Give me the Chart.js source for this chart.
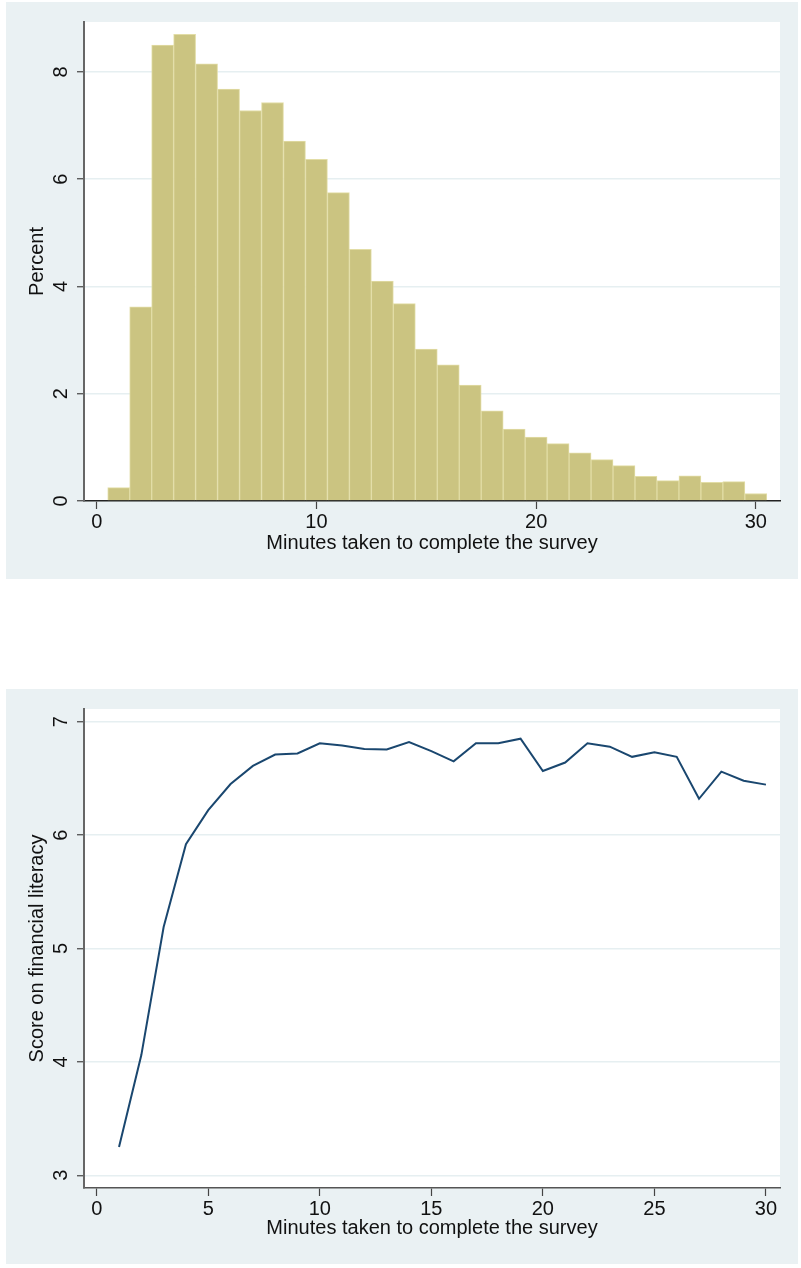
<!DOCTYPE html>
<html>
<head>
<meta charset="utf-8">
<script src="https://cdn.jsdelivr.net/npm/chart.js@4.4.1/dist/chart.umd.min.js"></script>
<style>
html, body { margin: 0; padding: 0; background: #fff; }
body { width: 801px; height: 1268px; position: relative; overflow: hidden; }
.panel { position: absolute; left: 6px; width: 792px; background: #EAF1F3; }
#p1 { top: 2px; height: 577px; }
#p2 { top: 689px; height: 575px; }
canvas { display: block; }
</style>
</head>
<body>
<div class="panel" id="p1"><canvas id="hist" width="792" height="577"></canvas></div>
<div class="panel" id="p2"><canvas id="line" width="792" height="575"></canvas></div>
<script>
// minutes taken, one bin / point per minute
const minutes = [1, 2, 3, 4, 5, 6, 7, 8, 9, 10, 11, 12, 13, 14, 15,
    16, 17, 18, 19, 20, 21, 22, 23, 24, 25, 26, 27, 28, 29, 30];

// histogram: percent of respondents per minute
const percentShare = [0.25, 3.62, 8.50, 8.70, 8.15, 7.68, 7.28, 7.43, 6.71, 6.37,
    5.75, 4.69, 4.10, 3.68, 2.83, 2.54, 2.16, 1.68, 1.34, 1.19,
    1.07, 0.90, 0.77, 0.66, 0.46, 0.38, 0.47, 0.35, 0.36, 0.14];

// mean score on financial literacy per minute
const literacyScore = [3.25, 4.06, 5.19, 5.92, 6.22, 6.45, 6.61, 6.71, 6.72, 6.81,
    6.79, 6.76, 6.755, 6.82, 6.74, 6.65, 6.81, 6.81, 6.85, 6.565,
    6.64, 6.81, 6.78, 6.69, 6.73, 6.69, 6.32, 6.56, 6.48, 6.445];

const histXTicks = [0, 10, 20, 30];
const histYTicks = [0, 2, 4, 6, 8];
const lineXTicks = [0, 5, 10, 15, 20, 25, 30];
const lineYTicks = [3, 4, 5, 6, 7];

const FONT = '"Liberation Sans", Arial, Helvetica, sans-serif';
const INK = '#111';

const plotBackground = {
    id: 'plotBackground',
    beforeDraw(chart) {
        const { ctx, chartArea: a } = chart;
        ctx.save();
        ctx.fillStyle = '#fff';
        ctx.fillRect(a.left, a.top, a.right - a.left, a.bottom - a.top);
        ctx.restore();
    }
};

// stata draws y tick labels turned on their side
const rotatedYLabels = {
    id: 'rotatedYLabels',
    afterDraw(chart) {
        const scale = chart.scales.y;
        const ctx = chart.ctx;
        ctx.save();
        ctx.font = '20px ' + FONT;
        ctx.fillStyle = INK;
        ctx.textAlign = 'center';
        ctx.textBaseline = 'alphabetic';
        scale.ticks.forEach(t => {
            const y = scale.getPixelForValue(t.value);
            ctx.save();
            ctx.translate(60.5, y);
            ctx.rotate(-Math.PI / 2);
            ctx.fillText(String(t.value), 0, 0);
            ctx.restore();
        });
        ctx.restore();
    }
};

function makeScales({ xMin, xMax, xTicks, yMin, yMax, yTicks, yTitle, xHeight, axisColor }) {
    return {
        x: {
            type: 'linear',
            min: xMin,
            max: xMax,
            offset: false,
            z: 1,
            afterBuildTicks: s => { s.ticks = xTicks.map(v => ({ value: v })); },
            afterFit: s => { s.height = xHeight; },
            ticks: { font: { family: FONT, size: 20 }, color: INK, padding: 1, maxRotation: 0, autoSkip: false },
            grid: { drawOnChartArea: false, drawTicks: true, tickLength: 8, tickColor: '#444', tickWidth: 1.2, offset: false },
            border: { display: true, color: axisColor, width: 1.5 },
            title: {
                display: true,
                text: 'Minutes taken to complete the survey',
                font: { family: FONT, size: 20 },
                color: INK,
                padding: { top: 0, bottom: 24 }
            }
        },
        y: {
            type: 'linear',
            min: yMin,
            max: yMax,
            afterBuildTicks: s => { s.ticks = yTicks.map(v => ({ value: v })); },
            afterFit: s => { s.width = 70; },
            ticks: { display: false },
            grid: { color: '#E6EFF1', lineWidth: 1.5, drawTicks: true, tickLength: 7, tickColor: '#444', tickWidth: 1.2 },
            border: { display: true, color: '#666', width: 2 },
            title: {
                display: true,
                text: yTitle,
                font: { family: FONT, size: 20 },
                color: INK,
                padding: { top: 11, bottom: 0 }
            }
        }
    };
}

const common = {
    responsive: false,
    animation: false,
    layout: { padding: { left: 8, right: 18, top: 20, bottom: 0 } },
    plugins: { legend: { display: false }, tooltip: { enabled: false } }
};

new Chart(document.getElementById('hist'), {
    type: 'bar',
    data: {
        datasets: [{
            data: minutes.map((m, i) => ({ x: m, y: percentShare[i] })),
            backgroundColor: '#CBC481',
            borderColor: '#E2DDA6',
            borderWidth: 1,
            barPercentage: 1,
            categoryPercentage: 1
        }]
    },
    options: {
        ...common,
        scales: makeScales({
            xMin: -0.58, xMax: 31.1, xTicks: histXTicks,
            yMin: 0, yMax: 8.93, yTicks: histYTicks,
            yTitle: 'Percent', xHeight: 78, axisColor: '#222'
        })
    },
    plugins: [plotBackground, rotatedYLabels]
});

new Chart(document.getElementById('line'), {
    type: 'line',
    data: {
        datasets: [{
            data: minutes.map((m, i) => ({ x: m, y: literacyScore[i] })),
            borderColor: '#1A476F',
            borderWidth: 2,
            pointRadius: 0,
            tension: 0,
            fill: false
        }]
    },
    options: {
        ...common,
        scales: makeScales({
            xMin: -0.57, xMax: 30.63, xTicks: lineXTicks,
            yMin: 2.888, yMax: 7.112, yTicks: lineYTicks,
            yTitle: 'Score on financial literacy', xHeight: 76, axisColor: '#555'
        })
    },
    plugins: [plotBackground, rotatedYLabels]
});
</script>
</body>
</html>
